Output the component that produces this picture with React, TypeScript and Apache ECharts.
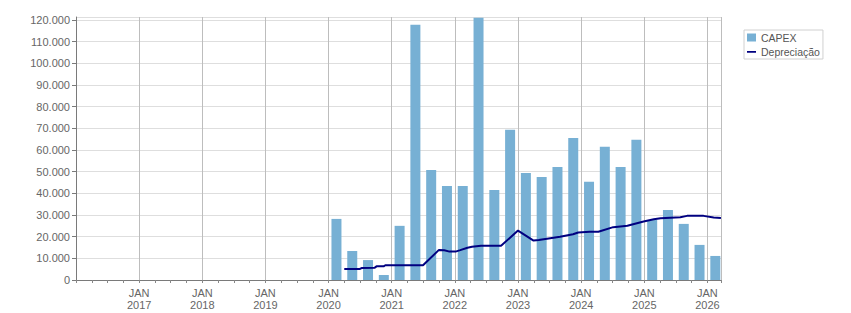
import React, { useEffect, useRef } from "react";
import * as echarts from "echarts";

// Quarterly CAPEX
const quarters = [
  "2020-Q1", "2020-Q2", "2020-Q3", "2020-Q4",
  "2021-Q1", "2021-Q2", "2021-Q3", "2021-Q4",
  "2022-Q1", "2022-Q2", "2022-Q3", "2022-Q4",
  "2023-Q1", "2023-Q2", "2023-Q3", "2023-Q4",
  "2024-Q1", "2024-Q2", "2024-Q3", "2024-Q4",
  "2025-Q1", "2025-Q2", "2025-Q3", "2025-Q4",
  "2026-Q1",
];
const capex = [
  28200, 13400, 9200, 2300,
  25000, 117800, 50800, 43400,
  43400, 121100, 41600, 69300,
  49400, 47600, 52200, 65600,
  45300, 61500, 52200, 64700,
  27700, 32300, 25900, 16200,
  11100,
];

// Depreciação line vertices
const depDates = [
  "2020-04-01", "2020-07-01", "2020-07-10", "2020-09-25", "2020-10-05",
  "2020-11-15", "2020-11-25", "2021-07-01", "2021-10-01", "2021-11-01",
  "2021-12-01", "2022-01-05", "2022-02-01", "2022-03-15", "2022-04-10",
  "2022-06-01", "2022-09-25", "2023-01-01", "2023-04-01", "2023-05-01",
  "2023-09-01", "2023-11-15", "2023-12-15", "2024-02-20", "2024-04-10",
  "2024-07-05", "2024-09-25", "2024-12-28", "2025-02-25", "2025-04-05",
  "2025-07-28", "2025-09-05", "2025-12-10", "2026-02-06", "2026-03-20",
];
const depValues = [
  5100, 5100, 5500, 5700, 6300,
  6300, 6800, 6800, 13900, 13700,
  13100, 13100, 13800, 14900, 15300,
  15800, 15800, 22800, 18200, 18500,
  20000, 21100, 21900, 22300, 22300,
  24400, 25000, 27000, 28000, 28500,
  29000, 29600, 29600, 28800, 28600,
];

const xMin = 2016;
const xMax = 2026.215;
const yMax = 121400;

function dateToYear(s: string): number {
  const [y, m, d] = s.split("-").map(Number);
  const t = Date.UTC(y, m - 1, d);
  const a = Date.UTC(y, 0, 1);
  const b = Date.UTC(y + 1, 0, 1);
  return y + (t - a) / (b - a);
}
function quarterMid(q: string): number {
  const [y, qq] = q.split("-Q").map(Number);
  return y + (qq - 1) / 4 + 1 / 8;
}
function fmtThousands(v: number): string {
  return String(v).replace(/\B(?=(\d{3})+(?!\d))/g, ".");
}

const FONT = "Liberation Sans, Arial, sans-serif";
const LINE_ICON = "path://M0,0L0.01,0M0,3.5L10,3.5L10,5.5L0,5.5ZM0,8L0.01,8";

export default function App() {
  const ref = useRef<HTMLDivElement>(null);
  useEffect(() => {
    if (!ref.current) return;
    const chart = echarts.init(ref.current, null, { renderer: "svg" });
    chart.setOption({
      animation: false,
      backgroundColor: "#ffffff",
      textStyle: { fontFamily: FONT },
      grid: { left: 76, right: 130, top: 17, bottom: 33, outerBoundsMode: "none" },
      legend: {
        orient: "vertical",
        left: 744,
        top: 30,
        padding: [2, 3, 2, 3],
        itemGap: 3,
        itemWidth: 9,
        itemHeight: 8,
        borderColor: "#d0d0d0",
        borderWidth: 1,
        textStyle: { fontSize: 10.5, color: "#555", fontFamily: FONT },
        data: [
          { name: "CAPEX", icon: "rect" },
          { name: "Depreciação", icon: LINE_ICON, itemStyle: { color: "#000080" } },
        ],
      },
      xAxis: [
        {
          type: "value",
          position: "bottom",
          min: xMin,
          max: xMax,
          interval: 1,
          axisLine: { show: true, lineStyle: { color: "#7a7a7a", width: 1 } },
          axisTick: { show: false },
          splitLine: { show: true, lineStyle: { color: "#bdbdbd", width: 1 } },
          axisLabel: {
            showMinLabel: true,
            showMaxLabel: true,
            margin: 7,
            fontSize: 11,
            lineHeight: 12,
            color: "#666",
            fontFamily: FONT,
            formatter: (v: number) =>
              Math.abs(v - Math.round(v)) < 1e-6 && v > xMin + 0.5
                ? `JAN\n${Math.round(v)}`
                : "",
          },
        },
        {
          type: "value",
          position: "bottom",
          min: xMin,
          max: xMax,
          interval: 0.25,
          axisLine: { show: false },
          axisTick: { show: true, length: 3, lineStyle: { color: "#888" } },
          splitLine: { show: false },
          axisLabel: { show: false },
        },
      ],
      yAxis: {
        type: "value",
        min: 0,
        max: yMax,
        interval: 10000,
        axisLine: { show: true, lineStyle: { color: "#7a7a7a", width: 1 } },
        axisTick: { show: true, length: 4, lineStyle: { color: "#7a7a7a" } },
        splitLine: { show: true, lineStyle: { color: "#dedede", width: 1 } },
        axisLabel: {
          margin: 6,
          fontSize: 11,
          color: "#666",
          fontFamily: FONT,
          showMaxLabel: false,
          formatter: (v: number) => (v % 10000 === 0 ? fmtThousands(v) : ""),
        },
      },
      series: [
        {
          name: "CAPEX",
          type: "bar",
          xAxisIndex: 0,
          barWidth: 10,
          itemStyle: { color: "#77b0d4" },
          data: quarters.map((q, i) => [quarterMid(q), capex[i]]),
        },
        {
          name: "Depreciação",
          type: "line",
          xAxisIndex: 0,
          symbol: "none",
          lineStyle: { color: "#000080", width: 2 },
          itemStyle: { color: "#000080" },
          data: depDates.map((d, i) => [dateToYear(d), depValues[i]]),
        },
      ],
    });
    return () => chart.dispose();
  }, []);
  return (
    <div
      ref={ref}
      style={{ position: "fixed", left: 0, top: 0, width: 851, height: 313 }}
    />
  );
}
